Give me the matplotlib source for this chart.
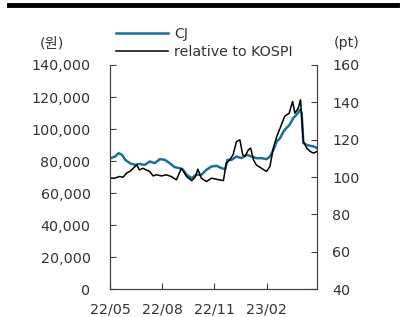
import matplotlib.pyplot as plt
from matplotlib.lines import Line2D
import pandas as pd

plt.rcParams['font.family'] = ['DejaVu Sans', 'Noto Sans CJK KR']

# CJ share price (원), left axis
cj_dates = ['2022-05-02', '2022-05-10', '2022-05-16', '2022-05-22', '2022-05-28',
            '2022-06-05', '2022-06-14', '2022-06-22', '2022-07-01', '2022-07-10',
            '2022-07-19', '2022-07-28', '2022-08-06', '2022-08-14', '2022-08-23',
            '2022-09-01', '2022-09-07', '2022-09-13', '2022-09-22', '2022-09-30',
            '2022-10-09', '2022-10-18', '2022-10-27', '2022-11-05', '2022-11-14',
            '2022-11-20', '2022-11-24', '2022-12-01', '2022-12-10', '2022-12-19',
            '2022-12-28', '2023-01-06', '2023-01-14', '2023-01-23', '2023-02-01',
            '2023-02-07', '2023-02-13', '2023-02-19', '2023-02-25', '2023-03-03',
            '2023-03-08', '2023-03-14', '2023-03-20', '2023-03-26', '2023-04-01',
            '2023-04-04', '2023-04-07', '2023-04-13', '2023-04-19', '2023-04-25',
            '2023-05-01']
cj_price = [81800, 82800, 84900, 83900, 80700,
            78700, 77600, 78200, 77600, 79700,
            78700, 81200, 80700, 78700, 76200,
            75500, 74500, 71400, 69300, 71400,
            71400, 74500, 76600, 77000, 75500,
            74900, 80700, 80700, 82800, 81800,
            83900, 82800, 81800, 81800, 81200,
            82800, 87000, 92200, 94300, 98500,
            100600, 102700, 106800, 108900, 112000,
            110000, 91200, 90100, 89500, 89100,
            88100]

# relative to KOSPI (pt), right axis
rel_dates = ['2022-05-01', '2022-05-09', '2022-05-18', '2022-05-24', '2022-05-30',
             '2022-06-05', '2022-06-11', '2022-06-17', '2022-06-22', '2022-06-28',
             '2022-07-04', '2022-07-10', '2022-07-16', '2022-07-22', '2022-07-31',
             '2022-08-08', '2022-08-17', '2022-08-26', '2022-09-04', '2022-09-13',
             '2022-09-22', '2022-09-28', '2022-10-03', '2022-10-09', '2022-10-18',
             '2022-10-27', '2022-11-05', '2022-11-17', '2022-11-22', '2022-11-28',
             '2022-12-04', '2022-12-10', '2022-12-16', '2022-12-21', '2022-12-25',
             '2022-12-31', '2023-01-04', '2023-01-09', '2023-01-14', '2023-01-23',
             '2023-02-01', '2023-02-07', '2023-02-13', '2023-02-19', '2023-02-25',
             '2023-03-05', '2023-03-13', '2023-03-19', '2023-03-23', '2023-03-29',
             '2023-04-02', '2023-04-07', '2023-04-13', '2023-04-19', '2023-04-25',
             '2023-05-01']
rel_kospi = [99.4, 99.4, 100.3, 99.9, 102.1,
             103.0, 104.7, 106.5, 103.8, 104.7,
             103.8, 103.0, 100.6, 101.2, 100.6,
             101.2, 100.3, 98.5, 104.7, 100.3,
             98.1, 99.9, 104.2, 99.4, 97.6,
             99.4, 98.8, 98.1, 107.4, 109.2,
             111.9, 119.0, 119.9, 111.9, 111.0,
             114.6, 115.5, 109.2, 106.5, 104.7,
             103.0, 105.6, 115.5, 121.7, 126.2,
             132.5, 134.2, 140.5, 134.2, 136.9,
             141.4, 119.0, 115.5, 113.7, 112.8,
             113.7]

tick_dates = ['2022-05-01', '2022-08-01', '2022-11-01', '2023-02-01']
tick_labels = ['22/05', '22/08', '22/11', '23/02']
left_ticks = [0, 20000, 40000, 60000, 80000, 100000, 120000, 140000]
right_ticks = [40, 60, 80, 100, 120, 140, 160]

text_c = '#333333'
spine_c = '#404040'
fs = 10.3

fig = plt.figure(figsize=(4.09, 3.17), dpi=100)
ax = fig.add_axes([0.269, 0.088, 0.506, 0.707])
ax2 = ax.twinx()

l1, = ax.plot(pd.to_datetime(cj_dates), cj_price, color='#1f6e94', lw=1.8, label='CJ')
l2, = ax2.plot(pd.to_datetime(rel_dates), rel_kospi, color='black', lw=1.1,
               label='relative to KOSPI')

ax.set_xlim(pd.Timestamp('2022-05-01'), pd.Timestamp('2023-05-01'))
ax.set_ylim(0, 140000)
ax2.set_ylim(40, 160)
ax.set_xticks(pd.to_datetime(tick_dates))
ax.set_xticklabels(tick_labels)
ax.set_yticks(left_ticks)
ax.set_yticklabels([f'{v:,}' for v in left_ticks])
ax2.set_yticks(right_ticks)

for a in (ax, ax2):
    a.spines['top'].set_visible(False)
    for s in ('left', 'right', 'bottom'):
        a.spines[s].set_color(spine_c)
ax.tick_params(axis='x', direction='in', length=4, color=spine_c, labelcolor=text_c,
               labelsize=fs, pad=10)
ax.tick_params(axis='y', direction='in', length=4, color=spine_c, labelcolor=text_c,
               labelsize=fs, pad=14)
ax2.tick_params(axis='y', direction='in', length=4, color=spine_c, labelcolor=text_c,
                labelsize=fs, pad=11)

fig.text(0.126, 0.864, '(원)', fontsize=fs, color=text_c, ha='center', va='center')
fig.text(0.848, 0.864, '(pt)', fontsize=fs, color=text_c, ha='center', va='center')

fig.legend(handles=[l1, l2], loc='upper left', bbox_to_anchor=(0.284, 0.915),
           frameon=False, fontsize=fs, handlelength=3.6, handletextpad=0.45,
           labelspacing=0.3, borderpad=0, borderaxespad=0, labelcolor=text_c)

fig.add_artist(Line2D([0.022, 0.971], [0.983, 0.983], color='black', lw=3.5,
                      transform=fig.transFigure))

fig.savefig('out.png', dpi=100)
